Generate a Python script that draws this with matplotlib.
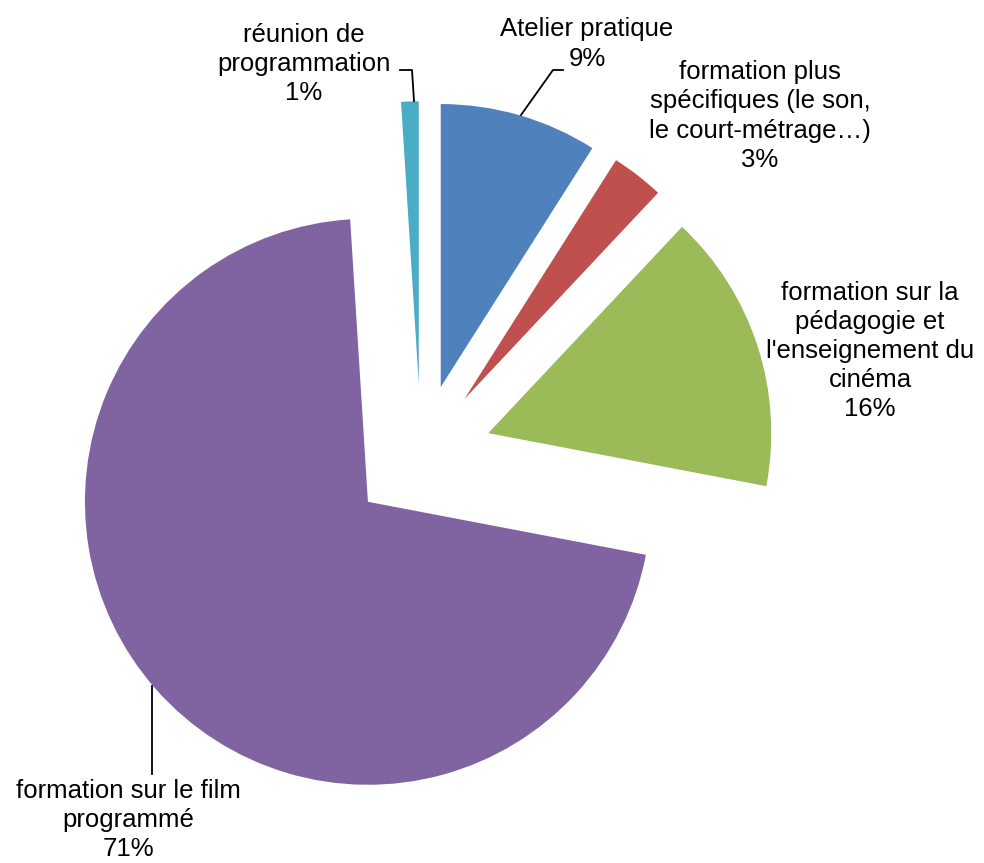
import matplotlib.pyplot as plt

plt.rcParams['font.family'] = ['Liberation Sans', 'DejaVu Sans']

labels = ["Atelier pratique",
          "formation plus\nspécifiques (le son,\nle court-métrage…)",
          "formation sur la\npédagogie et\nl'enseignement du\ncinéma",
          "formation sur le film\nprogrammé",
          "réunion de\nprogrammation"]
values = [9, 3, 16, 71, 1]
colors = ["#4F81BD", "#C0504D", "#9BBB59", "#8064A2", "#4BACC6"]

W, H = 984, 863
R = 283.0          # pie radius in pixels
CX, CY = 421, 455  # pie centre in pixels (image coords)


def px(x, y):
    # image pixel -> data coords (radius 1 pie)
    return (x - CX) / R, (CY - y) / R


fig = plt.figure(figsize=(W / 100, H / 100), dpi=100)
ax = fig.add_axes([0, 0, 1, 1])
ax.pie(values, colors=colors, startangle=90, counterclock=False,
       explode=[0.25] * len(values), radius=1)
ax.set_xlim(-CX / R, (W - CX) / R)
ax.set_ylim(-(H - CY) / R, CY / R)
ax.set_aspect('equal')
ax.axis('off')

# label positions (pixel centres) and leader lines
pos = [(587, 44), (760, 116), (870, 351), (128, 820), (304, 64)]
for lab, v, (x, y) in zip(labels, values, pos):
    ax.text(*px(x, y), "{}\n{}%".format(lab, v), ha='center', va='center',
            fontsize=18.5, linespacing=1.27, color='black')

leaders = [
    [(563, 70), (553, 70), (521, 115)],
    [(400, 70), (412, 70), (414, 101)],
    [(152, 686), (152, 774)],
]
for pts in leaders:
    xs, ys = zip(*[px(a, b) for a, b in pts])
    ax.plot(xs, ys, color='black', lw=1.3)

plt.savefig("out.png", dpi=100, facecolor='white')
